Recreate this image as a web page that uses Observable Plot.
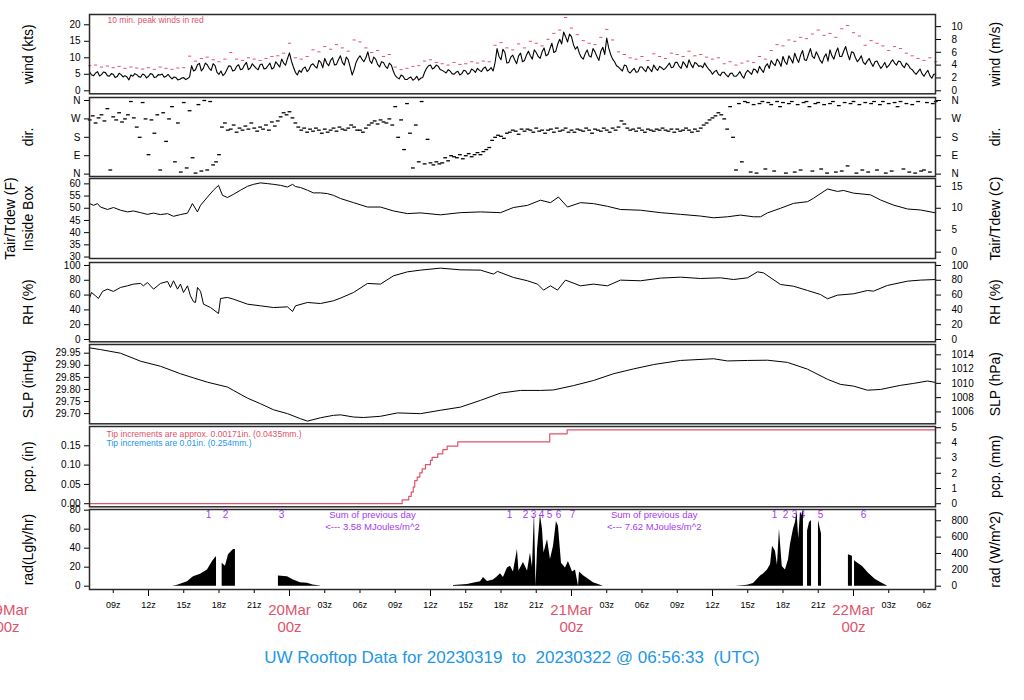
<!DOCTYPE html>
<html><head><meta charset="utf-8">
<script src="https://cdn.jsdelivr.net/npm/d3@7"></script>
<script src="https://cdn.jsdelivr.net/npm/@observablehq/plot@0.6"></script>
<style>
body{margin:0;background:#fff;font-family:"Liberation Sans",Arial,sans-serif;}
#wrap{position:relative;width:1024px;height:700px;overflow:hidden;background:#fff;}
#wrap svg{position:absolute;left:0;}
#title{position:absolute;left:0;width:1024px;top:648px;text-align:center;color:#2297E6;font-size:17px;white-space:pre;}
</style></head><body>
<div id="wrap"><div id="title">UW Rooftop Data for 20230319  to  20230322 @ 06:56:33  (UTC)</div></div>
<script>
// ---------------- DATA (hours since 2023-03-19 00:00 UTC) ----------------
const windStartH = 7, windStepH = 1/3;   // 20-minute samples (on the hour, :20, :40)
const windKts = [
 5.6,4.6,5.8, 4.9,5.5,4.4, 5.0,4.3,4.9, 4.6,3.3,4.4, 4.9,4.1,4.8, 4.4,5.0,4.2,
 4.8,4.1,5.0, 3.6,4.0,3.5, 4.0,3.7,7.6, 6.4,8.3,6.8, 7.9,6.2,7.6, 5.0,4.6,6.4,
 7.4,6.2,7.9, 6.6,8.6,6.9, 7.5,6.4,8.1, 6.8,8.4,7.0, 8.0,9.6,7.8, 11.5,7.2,4.8,
 5.6,7.2,6.5, 8.2,6.9,8.6, 9.8,7.6,10.0, 8.0,10.6,7.8, 9.4,4.8,8.6, 10.6,8.8,11.8,
 8.3,9.6,7.2, 8.6,6.8,7.8, 4.6,3.6,4.4, 3.4,4.2,3.6, 3.2,4.0,6.8, 7.8,7.0,7.4,
 6.2,5.4,6.0, 5.0,5.9,5.2, 6.0,5.4,6.2, 6.8,5.8,7.2, 6.4,6.0,12.8, 9.4,11.6,8.6,
 10.8,8.2,11.4, 9.2,12.0,9.6, 11.6,9.8,13.0, 11.0,14.4,12.0, 15.6,17.8,14.8, 16.4,12.6,11.4,
 9.6,12.4,10.2, 11.8,9.2,13.2, 16.0,11.0,8.8, 7.2,6.0,7.6, 5.4,6.8,5.8, 7.2,5.8,6.6,
 7.8,6.2,7.0, 6.8,8.4,7.2, 8.6,6.8,8.0, 9.4,7.0,8.2, 7.6,8.4,6.6, 5.0,6.2,4.6,
 5.6,4.2,5.4, 4.4,5.8,3.8, 6.2,5.0,6.4, 7.4,5.6,8.2, 9.2,7.6,8.8, 10.4,8.0,9.6,
 11.4,8.6,12.2, 9.2,12.8,9.8, 10.6,8.4,11.2, 12.4,9.6,13.0, 10.4,13.4,9.4, 11.6,8.8,10.6,
 8.0,9.8,7.4, 9.0,6.8,8.6, 7.6,9.4,7.8, 8.8,7.0,7.8, 6.4,5.0,6.6, 4.4,6.2,3.8,
 5.0
];
const windMidStartH = 7 + 1/6;           // samples in between (:10, :30, :50)
const windKtsMid = [
 4.8,5.4,4.5, 5.7,4.6,5.2, 4.0,5.3,4.2, 4.2,4.8,5.2, 4.3,5.1,3.9, 5.2,4.0,4.9,
 5.1,4.4,4.2, 4.2,3.3,3.9, 3.4,4.2,6.0, 7.9,6.0,8.4, 6.8,8.2,5.6, 6.0,5.2,7.6,
 6.0,7.4,6.4, 7.8,6.4,8.2, 6.8,7.9,6.6, 7.6,6.6,8.8, 7.2,8.4,9.8, 9.0,5.6,6.2,
 6.8,5.8,7.8, 7.4,9.2,7.0, 8.4,9.2,7.8, 9.4,8.6,10.2, 7.2,6.4,9.8, 9.6,10.0,9.2,
 10.2,8.0,8.8, 7.4,8.4,6.0, 4.0,4.8,3.4, 3.9,3.2,4.4, 3.8,5.6,7.6, 6.6,7.8,6.4,
 5.8,6.4,5.2, 5.6,4.8,6.2, 5.0,6.6,5.6, 6.2,6.8,6.0, 7.0,8.6,10.4, 12.6,8.4,10.2,
 9.4,10.6,8.8, 10.8,10.6,12.4, 10.4,11.8,10.6, 12.8,11.6,14.2, 14.2,16.4,17.2, 14.0,13.4,10.2,
 11.2,10.6,12.8, 10.4,12.0,11.0, 13.0,9.6,7.6, 6.6,7.8,5.8, 6.2,5.6,7.2, 6.4,7.4,5.8,
 6.8,7.4,6.4, 7.6,7.0,8.6, 7.4,8.8,7.0, 8.0,8.6,7.4, 7.0,7.4,6.0, 5.8,5.0,5.6,
 4.8,5.2,4.4, 5.0,4.6,5.4, 5.6,6.6,5.4, 6.4,7.4,6.8, 8.2,9.6,7.4, 8.8,10.6,8.4,
 9.8,10.8,9.4, 11.0,10.4,11.8, 9.2,10.2,9.0, 10.6,11.6,10.4, 12.0,11.2,11.8, 10.0,9.6,8.6,
 9.0,8.4,8.8, 7.8,7.6,7.0, 8.6,8.4,9.0, 7.6,8.4,6.8, 5.6,5.8,5.2, 5.4,4.6,5.0
];
const gustStartH = 7, gustStepH = 0.5;   // 10-min peak winds, every 30 minutes
const gustKts = [
 7.6,7.8, 7.2,7.5, 7.0,7.4, 6.8,7.2, 6.9,6.6, 7.0,6.5, 7.2,6.8, 6.5,6.9, 7.0,10.5,
 9.0,9.8, 10.2,9.4, 8.8,9.6, 11.6,9.6, 9.2,10.0, 9.6,9.2, 9.8,10.4, 10.6,11.4, 14.4,10.0,
 9.6,10.4, 12.4,11.8, 13.4,12.6, 14.0,13.0, 12.0,15.4, 14.8,13.0, 11.6,12.2, 10.4,11.0, 7.2,6.4,
 6.8,7.4, 7.6,9.0, 9.4,8.6, 8.2,7.8, 8.6,8.0, 8.2,8.8, 8.4,9.0, 8.8,13.8, 14.6,13.0,
 12.4,14.2, 13.0,15.0, 14.4,13.6, 15.6,17.4, 18.4,22.2, 19.0,17.0, 15.2,14.4, 14.0,16.2, 18.6,15.4,
 11.8,11.0, 10.0,9.6, 10.4,9.2, 11.2,10.4, 9.8,11.4, 11.0,10.4, 12.0,10.6, 11.0,10.2, 9.6,10.0,
 8.2,8.8, 7.8,8.4, 9.0,8.6, 10.4,9.6, 12.2,14.0, 13.6,15.4, 15.0,16.2, 15.8,17.2, 18.4,16.8,
 17.4,16.2, 18.8,19.8, 17.6,16.6, 13.8,15.2, 14.4,13.6, 12.2,13.4, 12.8,11.4, 10.6,9.8, 9.2,10.0,
 8.8
];
const dirStartH = 7, dirStepH = 0.25;    // 15-minute samples
const dirDeg = [
 265,285,250,275, 290,260,320,20, 280,265,300,255, 270,290,355,275, 230,180,350,270,
 95,265,200,290, 20,300,160,270, 330,60,250,10, 350,30,310,80, 5,340,15,360,
 20,355,45,60, 95,230,250,215, 220,240,205,225, 215,235,220,250, 225,210,230,220,
 240,215,255,235, 260,280,300,290, 305,275,250,230, 215,225,205,220, 210,225,215,200,
 220,205,215,225, 210,230,220,215, 225,240,230,215, 215,205,225,240, 250,260,245,265,
 255,250,270,240, 330,180,265,120, 345,200,30,240, 60,355,50,170, 55,45,60,50,
 55,80,65,90, 85,80,95,75, 90,100,85,95, 105,95,110,120, 130,165,180,190,
 185,175,200,205, 215,210,195,220, 210,220,215,205, 225,210,215,200, 215,220,205,225,
 210,215,225,205, 215,205,220,215, 210,225,215,200, 220,215,210,225, 215,205,225,215,
 230,260,245,225, 215,220,210,225, 215,205,220,215, 210,220,215,225, 215,210,220,205,
 220,210,215,225, 215,205,220,210, 225,240,250,265, 275,285,300,290, 270,220,330,180,
 20,345,60,355, 350,10,340,5, 345,355,25,350, 340,15,355,330, 350,5,345,355,
 10,340,20,350, 355,330,15,345, 350,25,340,5, 345,355,10,335, 15,350,40,345,
 355,5,340,20, 350,10,345,355, 20,340,355,5, 345,15,350,330, 355,25,345,10,
 340,5,355,15, 20,350,10,345,
 355
];
// [hour, deg F]
const tempF = [
 [7.0,51.9],[7.32,51.2],[7.66,51.9],[7.91,50.5],[8.51,49.5],[9.02,50.3],[9.62,49.2],[10.21,48.5],
 [10.72,48.9],[11.32,48.2],[11.91,47.5],[12.43,48.0],[13.02,47.4],[13.62,47.8],[14.13,46.7],[14.72,47.4],
 [15.32,48.0],[15.74,51.9],[16.17,48.5],[16.43,51.2],[17.02,54.6],[17.53,57.4],[17.96,59.4],[18.3,55.3],
 [18.72,54.4],[19.23,55.7],[19.83,57.4],[20.43,59.0],[20.94,59.8],[21.53,60.4],[22.13,60.1],[22.64,59.8],
 [23.23,59.4],[23.83,58.7],[24.26,59.8],[24.51,58.9],[24.94,58.5],[25.53,57.4],[26.04,56.3],[26.64,56.3],
 [27.23,56.0],[27.74,55.3],[28.34,54.0],[29.45,52.3],[30.64,50.5],[31.74,50.5],[32.85,48.9],[34.04,47.8],
 [35.15,48.1],[36.85,47.3],[38.55,48.2],[40.26,48.5],[41.96,48.2],[43.06,50.3],[44.26,51.2],[45.36,53.3],
 [46.21,52.3],[46.89,54.6],[47.66,50.5],[48.77,52.3],[49.87,51.9],[51.06,50.8],[52.17,49.5],[53.87,49.2],
 [55.57,48.2],[57.28,47.5],[58.98,46.8],[60.09,46.1],[61.28,46.5],[62.38,47.2],[63.49,46.5],[64.09,46.5],
 [64.68,48.1],[65.79,50.0],[66.89,52.0],[68.09,52.7],[68.6,54.1],[69.79,57.9],[70.64,56.9],[71.15,57.3],
 [72.0,56.2],[73.45,55.5],[74.3,53.4],[75.4,51.3],[76.6,49.7],[77.7,49.3],[79.0,48.1]
];
// [hour, RH %]
const rhPct = [
 [7.0,56.8],[7.15,63.5],[7.49,59],[7.74,55.4],[8.09,65],[8.51,68],[9.02,65],[9.62,70.3],[10.21,72.5],
 [10.72,74.8],[11.32,75.7],[11.57,72.5],[11.91,77],[12.43,68],[13.02,75.7],[13.62,78.4],[13.87,70.3],
 [14.13,79.3],[14.47,68],[14.72,74.8],[14.98,63.5],[15.32,72.5],[15.57,59],[15.83,51],[16.0,50],
 [16.17,70.3],[16.43,65],[16.68,47.7],[17.28,43.2],[17.96,35.1],[18.13,55.4],[18.72,56.8],[19.23,54.5],
 [20.43,47.7],[21.53,45.5],[22.64,43.2],[23.83,44.1],[24.26,37.8],[24.51,45.5],[25.53,50],[26.64,48.6],
 [27.74,52.3],[28.34,55.9],[29.45,63.5],[30.64,75.7],[31.74,74.8],[32.85,86],[34.04,91.4],[35.15,93.7],
 [36.85,96.4],[38.55,94.1],[40.26,93.7],[41.36,88.3],[41.7,92],[43.06,83.8],[44.26,79.3],[45.11,74.8],
 [45.62,66.7],[46.21,72.5],[46.81,66.7],[47.49,80.2],[48.77,72.5],[49.87,74.8],[51.06,72.5],[52.17,80.2],
 [53.87,79.3],[55.57,82.9],[57.28,84.2],[58.98,82.4],[60.68,83.3],[61.79,81],[62.98,83.3],[63.83,91.4],
 [64.34,90],[65.79,74.3],[66.89,72],[68.09,66.2],[69.19,60.8],[69.79,55],[70.64,59.9],[72.0,61.7],
 [73.19,66.2],[73.7,65.3],[74.89,73],[76.6,78.8],[77.7,80.2],[79.0,81]
];
// [hour, inHg]
const slpInHg = [
 [7.0,29.972],[7.91,29.965],[9.62,29.950],[11.32,29.917],[13.02,29.896],[14.72,29.865],[15.83,29.848],
 [17.02,29.830],[18.72,29.810],[19.23,29.796],[20.43,29.764],[21.53,29.741],[22.64,29.716],[23.83,29.700],
 [24.94,29.679],[25.53,29.669],[26.64,29.683],[27.74,29.693],[28.34,29.695],[29.45,29.686],[30.3,29.684],
 [31.74,29.689],[33.19,29.703],[35.15,29.700],[36.85,29.714],[38.55,29.727],[40.26,29.755],[41.96,29.785],
 [43.66,29.796],[45.36,29.796],[46.47,29.798],[48.17,29.816],[49.87,29.837],[51.57,29.865],[53.28,29.885],
 [54.98,29.903],[57.28,29.920],[60.09,29.927],[61.28,29.918],[62.98,29.920],[64.68,29.921],[66.38,29.912],
 [68.09,29.884],[69.79,29.842],[70.89,29.821],[72.0,29.814],[73.19,29.797],[74.3,29.800],[76.0,29.817],
 [77.11,29.825],[78.3,29.835],[79.0,29.829]
];
// [hour, accumulated inches]
const pcpIn = [
 [7.0,0],[33.59,0.010],[34.15,0.019],[34.36,0.030],[34.53,0.043],[34.66,0.060],[34.87,0.069],[35.09,0.080],
 [35.29,0.090],[35.57,0.101],[36.0,0.112],[36.14,0.120],[36.62,0.129],[37.05,0.140],[37.42,0.149],
 [38.32,0.160],[46.15,0.181],[47.63,0.191],[79.0,0.191]
];
// [hour, Ly/hr]; NaN separates data gaps
const radLy = [
 [14.04,0],[14.4,0.8],[14.72,2],[15.32,4.6],[15.83,10],[16.43,12.5],[17.02,17],[17.45,26],[17.74,30.7],[17.79,30.5],[17.9,NaN],
 [18.27,24],[18.55,21],[18.81,33],[19.23,38.6],[19.4,38.6],[19.5,NaN],
 [23.06,10.7],[23.83,10],[24.34,6.4],[24.94,3.6],[25.53,3.0],[26.0,1.2],[26.64,0.3],[26.8,NaN],
 [37.96,0.7],[39.15,1.8],[39.83,3.5],[40.26,4.6],[40.51,9],[40.85,5],[41.36,6.4],[41.7,10],[41.96,13],
 [42.21,9],[42.55,19],[42.81,21],[43.06,15],[43.4,38.6],[43.53,16],[43.91,25],[44.26,16],[44.51,35],
 [44.68,20],[44.85,78],[44.98,0],[45.11,38.6],[45.36,75],[45.53,60],[45.66,35],[45.96,49],[46.21,28],
 [46.47,42],[46.72,68],[46.89,63],[47.15,24],[47.49,19],[47.74,26],[48.09,15],[48.34,17],[48.6,0],
 [48.68,15],[49.02,11],[49.36,8],[49.87,3.6],[50.72,0],[50.8,NaN],
 [61.96,0],[62.98,1],[63.49,2.9],[64.09,10.7],[64.34,12.9],[64.68,17],[64.94,22.5],[65.11,42],[65.36,36.8],
 [65.53,22],[65.7,60],[65.94,20.7],[66.21,17],[66.47,27.9],[66.64,44],[66.89,60],[67.06,67],[67.2,78],
 [67.34,50],[67.49,78],[67.63,74],[67.74,81],[67.8,NaN],
 [68.09,58],[68.26,67],[68.43,69],[68.5,NaN],
 [69.02,69],[69.28,55],[69.4,NaN],
 [71.57,33],[71.91,31.4],[71.98,NaN],[72.09,27],[72.17,26],[72.77,20.7],[73.28,13.6],[73.87,7.1],[74.47,2.9],[74.89,0.3]
];
const radMarkHour = [17.11,18.55,23.32, 42.72,44.09,44.77,45.45,46.13,46.89,48.09, 65.28,66.21,66.98,67.66,69.19,72.85];
const radMarkText = ["1","2","3", "1","2","3","4","5","6","7", "1","2","3","4","5","6"];
const radSumHour = [31.06, 55.04];
const radSumText = ["<--- 3.58 MJoules/m^2", "<--- 7.62 MJoules/m^2"];

// tick labels
const windKtTicks = [0,5,10,15,20];
const windMsTicks = [0,2,4,6,8,10];
const dirTicks = [0,90,180,270,360];
const dirTickLabels = ["N","E","S","W","N"];
const tempFTicks = [30,35,40,45,50,55,60];
const tempCTicks = [0,5,10,15];
const rhTicks = [0,20,40,60,80,100];
const slpInTicks = [29.70,29.75,29.80,29.85,29.90,29.95];
const slpHpaTicks = [1006,1008,1010,1012,1014];
const pcpInTicks = [0,0.05,0.10,0.15];
const pcpMmTicks = [0,1,2,3,4,5];
const radLyTicks = [0,20,40,60,80];
const radWTicks = [0,200,400,600,800];
const timeTickHours = [9,12,15,18,21,27,30,33,36,39,42,45,51,54,57,60,63,66,69,75,78];
const majorTickHours = [12,24,36,48,60,72];
const dateTickHours = [0,24,48,72];

// ---------------- helpers ----------------
const T0 = Date.UTC(2023, 2, 19);
const toDate = h => new Date(T0 + h * 3600e3);
const xDomain = [toDate(6.98), toDate(78.98)];
const KT_PER_MS = 1.94384, HPA_PER_INHG = 33.8639, MM_PER_IN = 25.4, WM2_PER_LY = 11.622;
const RED = "#DF536B", BLUE = "#2297E6", PURPLE = "#A63AF0";
const FONT = "Liberation Sans, Arial, Helvetica, sans-serif";
const wrap = document.getElementById("wrap");
const dash = {draw(ctx, size) { const r = Math.sqrt(size / Math.PI); ctx.moveTo(-r, 0); ctx.lineTo(r, 0); }};

const series = (vals, start, step) => vals.map((v, i) => ({t: toDate(start + i * step), v}));
const pairs = arr => arr.map(([h, v]) => ({t: toDate(h), v}));
const windRows = series(windKts, windStartH, windStepH)
  .concat(series(windKtsMid, windMidStartH, windStepH))
  .sort((a, b) => a.t - b.t);

function leftAxis(ticks, fmt) {
  return Plot.axisY({anchor: "left", ticks, tickFormat: fmt, tickSize: 5, tickPadding: 4, label: null, fontSize: 10});
}
function rightAxis(ticks, fmt) {
  return Plot.axisY({anchor: "right", ticks, tickFormat: fmt, tickSize: 5, tickPadding: 11, label: null, fontSize: 10, textAnchor: "start"});
}
function sideLabel(text, side, dx) {
  return Plot.text([text], {frameAnchor: side, dx, rotate: -90, fontSize: 14, textAnchor: "middle", lineAnchor: "middle", fill: "black"});
}

function panel({top, bottom, yDomain, marks, mt = 8, mb = 8}) {
  const svg = Plot.plot({
    width: 1024, height: (bottom - top) + mt + mb,
    marginLeft: 89, marginRight: 89, marginTop: mt, marginBottom: mb,
    x: {type: "utc", domain: xDomain, axis: null},
    y: {domain: yDomain, axis: null},
    style: {background: "transparent", fontFamily: FONT, fontSize: "10px", overflow: "visible", color: "black"},
    marks: [...marks, Plot.frame({stroke: "#2a2a2a", strokeWidth: 1.5})]
  });
  svg.style.top = (top - mt) + "px";
  wrap.appendChild(svg);
}

// ---------------- panels ----------------
panel({top: 14, bottom: 93.3, yDomain: [-0.91, 23.12], marks: [
  Plot.dot(series(gustKts, gustStartH, gustStepH), {x: "t", y: "v", symbol: dash, r: 1.6, stroke: RED, fill: "none", strokeWidth: 1}),
  Plot.line(windRows, {x: "t", y: "v", stroke: "black", strokeWidth: 1.1}),
  Plot.text(["10 min. peak winds in red"], {frameAnchor: "top-left", dx: 18, dy: 6, textAnchor: "start", lineAnchor: "middle", fill: RED, fontSize: 8.5}),
  leftAxis(windKtTicks, d => String(d)),
  rightAxis(windMsTicks.map(v => v * KT_PER_MS), d => String(Math.round(d / KT_PER_MS))),
  sideLabel("wind (kts)", "left", -61),
  sideLabel("wind (m/s)", "right", 60)
]});

panel({top: 96.7, bottom: 175.7, yDomain: [-11.7, 374.7], marks: [
  Plot.dot(series(dirDeg, dirStartH, dirStepH), {x: "t", y: "v", symbol: dash, r: 1.9, stroke: "black", fill: "none", strokeWidth: 1.3}),
  leftAxis(dirTicks, d => dirTickLabels[dirTicks.indexOf(d)]),
  rightAxis(dirTicks, d => dirTickLabels[dirTicks.indexOf(d)]),
  sideLabel("dir.", "left", -61),
  sideLabel("dir.", "right", 60)
]});

panel({top: 178.3, bottom: 258.3, yDomain: [29.4, 62.2], marks: [
  Plot.line(pairs(tempF), {x: "t", y: "v", stroke: "black", strokeWidth: 1}),
  leftAxis(tempFTicks, d => String(d)),
  rightAxis(tempCTicks.map(c => c * 1.8 + 32), d => String(Math.round((d - 32) / 1.8))),
  sideLabel("Tair/Tdew (F)", "left", -79),
  sideLabel("Inside Box", "left", -61),
  sideLabel("Tair/Tdew (C)", "right", 60)
]});

panel({top: 261.7, bottom: 341, yDomain: [-3.1, 104], marks: [
  Plot.line(pairs(rhPct), {x: "t", y: "v", stroke: "black", strokeWidth: 1}),
  leftAxis(rhTicks, d => String(d)),
  rightAxis(rhTicks, d => String(d)),
  sideLabel("RH (%)", "left", -61),
  sideLabel("RH (%)", "right", 60)
]});

panel({top: 344, bottom: 423.3, yDomain: [29.658, 29.986], marks: [
  Plot.line(pairs(slpInHg), {x: "t", y: "v", stroke: "black", strokeWidth: 1}),
  leftAxis(slpInTicks, d => d.toFixed(2)),
  rightAxis(slpHpaTicks.map(p => p / HPA_PER_INHG), d => String(Math.round(d * HPA_PER_INHG))),
  sideLabel("SLP (inHg)", "left", -61),
  sideLabel("SLP (hPa)", "right", 60)
]});

panel({top: 426, bottom: 506.3, yDomain: [-0.008, 0.200], marks: [
  Plot.line(pairs(pcpIn), {x: "t", y: "v", stroke: RED, strokeWidth: 1.2, curve: "step-after"}),
  Plot.text(["Tip increments are approx. 0.00171in. (0.0435mm.)"], {frameAnchor: "top-left", dx: 17, dy: 7.3, textAnchor: "start", lineAnchor: "middle", fill: RED, fontSize: 8.6}),
  Plot.text(["Tip increments are 0.01in. (0.254mm.)"], {frameAnchor: "top-left", dx: 17, dy: 16.3, textAnchor: "start", lineAnchor: "middle", fill: BLUE, fontSize: 8.6}),
  leftAxis(pcpInTicks, d => d.toFixed(2)),
  rightAxis(pcpMmTicks.map(m => m / MM_PER_IN), d => String(Math.round(d * MM_PER_IN))),
  sideLabel("pcp. (in)", "left", -61),
  sideLabel("pcp. (mm)", "right", 60)
]});

panel({top: 509.3, bottom: 589.3, yDomain: [-3.5, 80.7], mb: 64, marks: [
  Plot.text(radMarkText, {x: (d, i) => toDate(radMarkHour[i]), frameAnchor: "top", dy: 5.7, lineAnchor: "middle", fill: PURPLE, fontSize: 10}),
  Plot.text(radSumHour.map(() => "Sum of previous day"), {x: (d, i) => toDate(radSumHour[i]), frameAnchor: "top", dy: 5.7, lineAnchor: "middle", fill: PURPLE, fontSize: 9.5}),
  Plot.text(radSumText, {x: (d, i) => toDate(radSumHour[i]), frameAnchor: "top", dy: 17.4, lineAnchor: "middle", fill: PURPLE, fontSize: 9.5}),
  Plot.areaY(pairs(radLy), {x: "t", y1: 0, y2: "v", fill: "black", curve: "linear"}),
  leftAxis(radLyTicks, d => String(d)),
  rightAxis(radWTicks.map(w => w / WM2_PER_LY), d => String(Math.round(d * WM2_PER_LY))),
  Plot.axisX({ticks: timeTickHours.map(toDate), tickSize: 4, tickPadding: 8, tickFormat: d3.utcFormat("%Hz"), fontSize: 9, label: null}),
  Plot.axisX({ticks: majorTickHours.map(toDate), tickSize: 7, tickFormat: () => "", label: null}),
  Plot.axisX({ticks: dateTickHours.map(toDate), tickSize: 0, tickPadding: 14, tickFormat: d => d3.utcFormat("%d%b")(d) + "\n00z", fontSize: 15, fill: RED, lineHeight: 1.1, label: null}),
  sideLabel("rad(Lgly/hr)", "left", -61),
  sideLabel("rad (W/m^2)", "right", 60)
]});
</script>
</body></html>
